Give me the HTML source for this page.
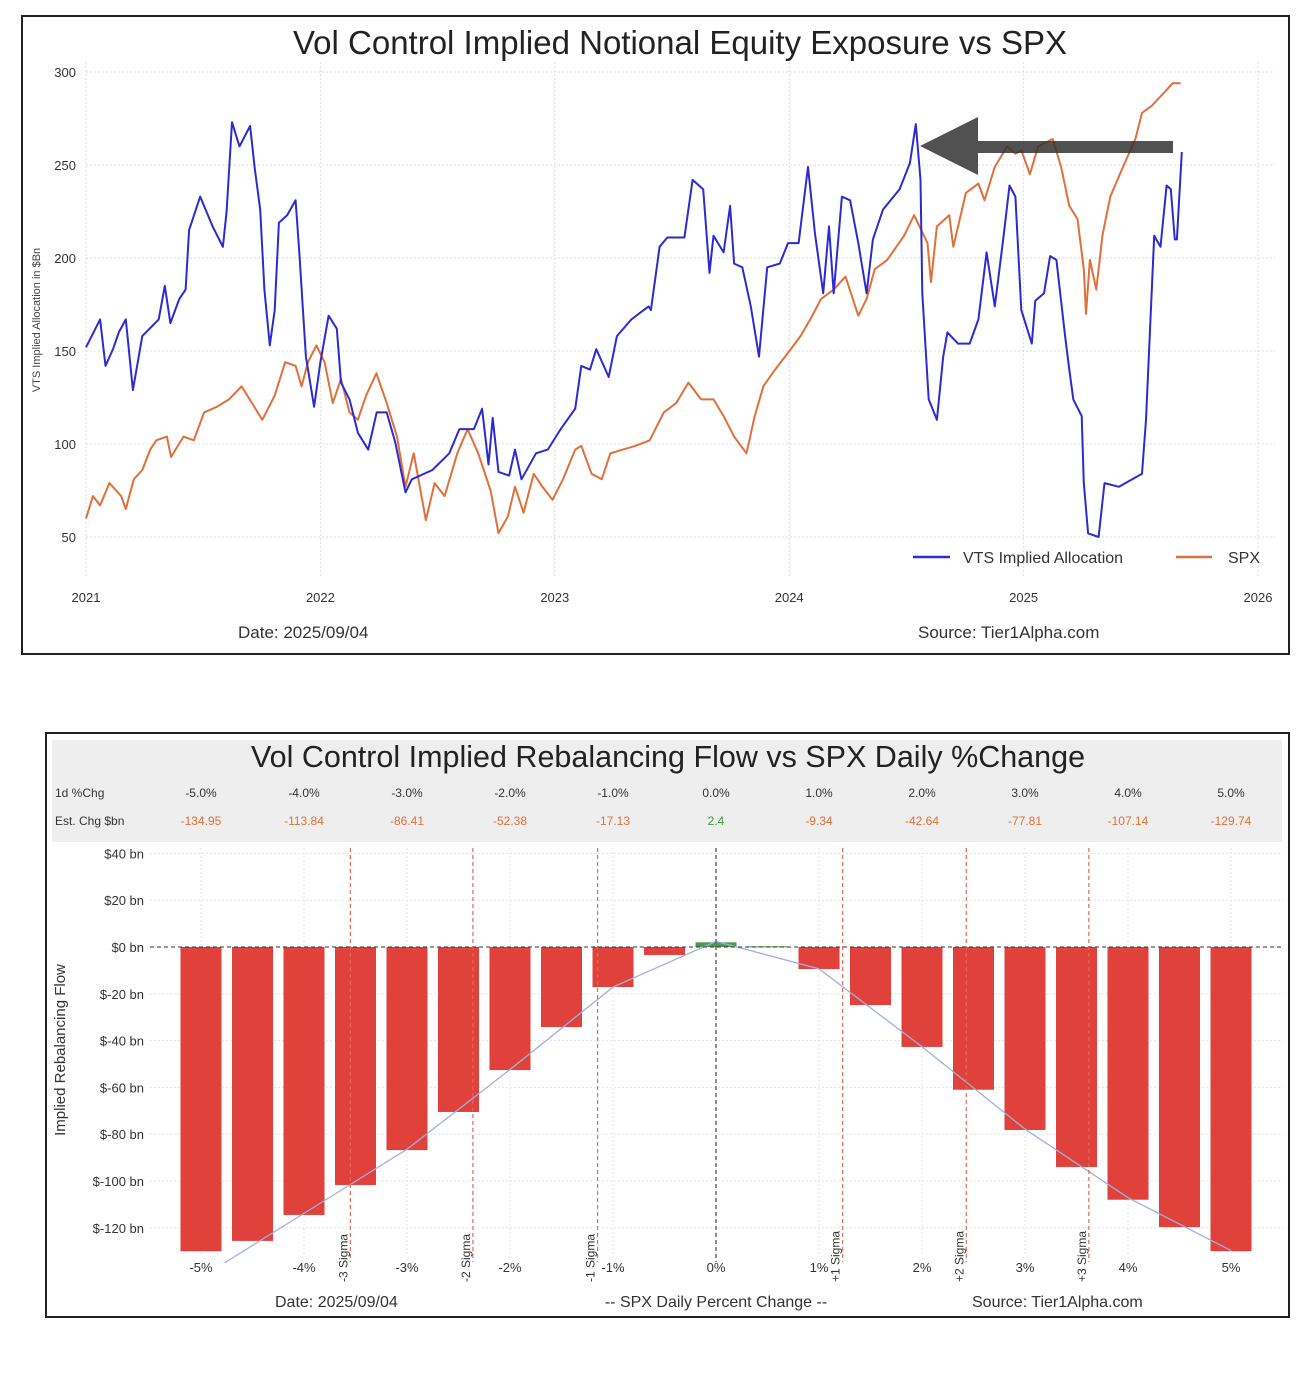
<!DOCTYPE html>
<html><head><meta charset="utf-8"><style>
html,body{margin:0;padding:0;background:#fff;}
body{width:1300px;height:1393px;position:relative;overflow:hidden;font-family:"Liberation Sans",sans-serif;}
svg text{font-family:"Liberation Sans",sans-serif;}
</style></head><body>
<svg id="s" width="1300" height="1393" xmlns="http://www.w3.org/2000/svg">
<rect x="0" y="0" width="1300" height="1393" fill="#fff"/>
<g id="top">
<rect x="22" y="16" width="1267" height="638" fill="#fff" stroke="#222" stroke-width="2"/>
<text x="680" y="54" text-anchor="middle" font-size="33" fill="#222">Vol Control Implied Notional Equity Exposure vs SPX</text>
<text transform="translate(40,320) rotate(-90)" text-anchor="middle" font-size="11" fill="#444">VTS Implied Allocation in $Bn</text>
<g id="topGrid"></g><g id="topLines"></g>
<g opacity="0.85">
<polygon points="920,146 978,117 978,175" fill="#333"/>
<rect x="977" y="141" width="196" height="12" fill="#333"/>
</g>
<g>
<line x1="913" y1="557" x2="950" y2="557" stroke="#2b2bd0" stroke-width="2.5"/>
<text x="963" y="563" font-size="16" fill="#333">VTS Implied Allocation</text>
<line x1="1176" y1="557" x2="1212" y2="557" stroke="#e0703a" stroke-width="2.5"/>
<text x="1228" y="563" font-size="16" fill="#333">SPX</text>
</g>
<text x="238" y="638" font-size="17" fill="#333">Date: 2025/09/04</text>
<text x="918" y="638" font-size="17" fill="#333">Source: Tier1Alpha.com</text>
</g>
<g id="bot">
<rect x="46" y="733" width="1243" height="584" fill="#fff" stroke="#222" stroke-width="2"/>
<rect x="52" y="740" width="1230" height="102" fill="#eeeeee"/>
<text x="668" y="767" text-anchor="middle" font-size="30.5" fill="#222">Vol Control Implied Rebalancing Flow vs SPX Daily %Change</text>
<text x="55" y="797" font-size="12" fill="#333">1d %Chg</text>
<text x="55" y="825" font-size="12" fill="#333">Est. Chg $bn</text>
<g id="table"></g>
<text transform="translate(65,1050) rotate(-90)" text-anchor="middle" font-size="15" fill="#333">Implied Rebalancing Flow</text>
<g id="botGrid"></g><g id="bars"></g>
<text x="275" y="1307" font-size="16" fill="#333">Date: 2025/09/04</text>
<text x="716" y="1307" text-anchor="middle" font-size="16" fill="#333">-- SPX Daily Percent Change --</text>
<text x="972" y="1307" font-size="16" fill="#333">Source: Tier1Alpha.com</text>
</g>
</svg>
<script>
// ---- top chart data ----
const yearTicks=[2021,2022,2023,2024,2025,2026];
const valueTicks=[50,100,150,200,250,300];
const vtsDates=[2021.0,2021.06,2021.083,2021.115,2021.14,2021.17,2021.2,2021.24,2021.31,2021.336,2021.36,2021.398,2021.425,2021.44,2021.487,2021.54,2021.584,2021.6,2021.623,2021.655,2021.7,2021.72,2021.743,2021.761,2021.784,2021.805,2021.823,2021.858,2021.894,2021.91,2021.938,2021.973,2022.0,2022.035,2022.07,2022.088,2022.124,2022.16,2022.204,2022.24,2022.283,2022.319,2022.363,2022.39,2022.425,2022.478,2022.55,2022.593,2022.655,2022.69,2022.717,2022.735,2022.76,2022.805,2022.83,2022.858,2022.92,2022.97,2023.025,2023.087,2023.113,2023.15,2023.177,2023.23,2023.265,2023.327,2023.4,2023.41,2023.447,2023.48,2023.553,2023.588,2023.633,2023.66,2023.677,2023.72,2023.748,2023.765,2023.8,2023.836,2023.871,2023.906,2023.96,2023.995,2024.04,2024.08,2024.11,2024.145,2024.17,2024.19,2024.225,2024.26,2024.295,2024.33,2024.357,2024.4,2024.471,2024.515,2024.54,2024.56,2024.568,2024.595,2024.63,2024.657,2024.675,2024.72,2024.77,2024.807,2024.842,2024.877,2024.913,2024.94,2024.965,2024.99,2025.035,2025.05,2025.087,2025.113,2025.14,2025.177,2025.195,2025.212,2025.248,2025.257,2025.275,2025.32,2025.345,2025.407,2025.505,2025.522,2025.557,2025.584,2025.61,2025.628,2025.645,2025.654,2025.675];
const vtsValues=[152,167,142,151,160,167,129,158,167,185,165,178,183,215,233,217,206,225,273,260,271,248,226,183,153,172,219,223,231,203,147,120,144,169,162,133,124,106,97,117,117,101,74,81,83,86,95,108,108,119,89,114,85,83,97,81,95,97,108,119,142,140,151,136,158,167,174,172,206,211,211,242,237,192,212,203,228,197,195,174,147,195,197,208,208,249,213,181,217,181,233,231,208,181,210,226,237,251,272,242,181,124,113,147,160,154,154,167,203,174,210,239,233,172,154,177,181,201,199,158,140,124,115,79,52,50,79,77,84,113,212,206,239,237,210,210,257];
const spxDates=[2021.0,2021.03,2021.06,2021.1,2021.15,2021.17,2021.204,2021.24,2021.274,2021.3,2021.345,2021.363,2021.416,2021.46,2021.504,2021.558,2021.61,2021.664,2021.708,2021.752,2021.805,2021.85,2021.894,2021.92,2021.947,2021.983,2022.018,2022.053,2022.088,2022.124,2022.16,2022.195,2022.239,2022.283,2022.327,2022.363,2022.398,2022.45,2022.487,2022.53,2022.584,2022.628,2022.673,2022.726,2022.76,2022.8,2022.83,2022.867,2022.91,2022.947,2022.99,2023.035,2023.087,2023.113,2023.157,2023.2,2023.237,2023.29,2023.343,2023.405,2023.465,2023.518,2023.57,2023.624,2023.677,2023.72,2023.765,2023.818,2023.853,2023.89,2023.94,2023.995,2024.048,2024.09,2024.136,2024.19,2024.24,2024.295,2024.33,2024.365,2024.418,2024.49,2024.533,2024.59,2024.605,2024.63,2024.683,2024.7,2024.754,2024.807,2024.833,2024.877,2024.93,2024.965,2024.99,2025.027,2025.062,2025.124,2025.16,2025.195,2025.23,2025.257,2025.266,2025.283,2025.31,2025.336,2025.37,2025.424,2025.477,2025.505,2025.548,2025.6,2025.636,2025.67];
const spxValues=[60,72,67,79,72,65,81,86,97,102,104,93,104,102,117,120,124,131,122,113,126,144,142,131,144,153,144,122,135,117,113,126,138,122,104,77,95,59,79,72,95,108,95,75,52,61,77,63,84,77,70,81,97,99,84,81,95,97,99,102,117,122,133,124,124,115,104,95,115,131,140,149,158,167,178,183,190,169,178,194,199,212,223,208,187,217,223,206,235,240,231,249,260,256,258,245,260,264,249,228,221,194,170,199,183,212,233,249,264,278,282,289,294,294];
// ---- bottom chart data ----
const pctTicks=[-5,-4,-3,-2,-1,0,1,2,3,4,5];
const flowTicks=[40,20,0,-20,-40,-60,-80,-100,-120];
const barPcts=[-5,-4.5,-4,-3.5,-3,-2.5,-2,-1.5,-1,-0.5,0,0.5,1,1.5,2,2.5,3,3.5,4,4.5,5];
const barValues=[-130,-125.6,-114.5,-101.7,-86.8,-70.5,-52.6,-34.2,-17.1,-3.4,2,0.3,-9.4,-24.8,-42.7,-61,-78.2,-94,-108,-119.7,-130];
const tablePcts=["-5.0%","-4.0%","-3.0%","-2.0%","-1.0%","0.0%","1.0%","2.0%","3.0%","4.0%","5.0%"];
const tableEst=[-134.95,-113.84,-86.41,-52.38,-17.13,2.4,-9.34,-42.64,-77.81,-107.14,-129.74];
const sigmaPcts=[-3.55,-2.36,-1.15,1.23,2.43,3.62];
const sigmaLabels=["-3 Sigma","-2 Sigma","-1 Sigma","+1 Sigma","+2 Sigma","+3 Sigma"];

const NS="http://www.w3.org/2000/svg";
function mk(tag,attrs,parent,txt){const e=document.createElementNS(NS,tag);for(const k in attrs)e.setAttribute(k,attrs[k]);if(txt!==undefined)e.textContent=txt;parent.appendChild(e);return e;}
const tx=y=>86+(y-2021)*234.4;
const ty=v=>72+(300-v)*93/50;
const tg=document.getElementById('topGrid');
yearTicks.forEach(y=>{
 const l=mk('line',{x1:tx(y),x2:tx(y),y1:62,y2:578,stroke:'#ddd','stroke-dasharray':'2,2'},tg);
 
 
 const t=mk('text',{x:tx(y),y:602,'text-anchor':'middle','font-size':13,fill:'#333'},tg,String(y));
 
 
});
valueTicks.forEach(v=>{
 const l=mk('line',{x1:86,x2:1275,y1:ty(v),y2:ty(v),stroke:'#ddd','stroke-dasharray':'2,2'},tg);
 
 
 const t=mk('text',{x:76,y:ty(v)+5,'text-anchor':'end','font-size':13,fill:'#333'},tg,String(v));
 
 
});
const tl=document.getElementById('topLines');
function path(ds,vs){return ds.map((d,i)=>(i?'L':'M')+tx(d).toFixed(1)+','+ty(vs[i]).toFixed(1)).join('');}
const sp=mk('path',{d:path(spxDates,spxValues),fill:'none',stroke:'#e0703a','stroke-width':2,'stroke-linejoin':'round'},tl);


const vp=mk('path',{d:path(vtsDates,vtsValues),fill:'none',stroke:'#2b2bd0','stroke-width':2,'stroke-linejoin':'round'},tl);


const bx=p=>716+p*103;
const by=v=>947-v*46.8/20;
const tab=document.getElementById('table');
tablePcts.forEach((s,i)=>{
 const t=mk('text',{x:bx(pctTicks[i]),y:797,'text-anchor':'middle','font-size':12,fill:'#333'},tab,s);
 
 
 const v=tableEst[i];
 const t2=mk('text',{x:bx(pctTicks[i]),y:825,'text-anchor':'middle','font-size':12,fill:v>=0?'#3a9a3a':'#e0703a'},tab,String(v));
 
 
});
const bg=document.getElementById('botGrid');
flowTicks.forEach(v=>{
 const l=mk('line',{x1:150,x2:1283,y1:by(v),y2:by(v),stroke:'#e4e4e4','stroke-dasharray':'2,2'},bg);
 
 
 const t=mk('text',{x:144,y:by(v)+5,'text-anchor':'end','font-size':13,fill:'#333'},bg,'$'+v+' bn');
 
 
});
pctTicks.forEach(p=>{
 const l=mk('line',{x1:bx(p),x2:bx(p),y1:848,y2:1255,stroke:'#e4e4e4','stroke-dasharray':'2,2'},bg);
 
 
 const t=mk('text',{x:bx(p),y:1272,'text-anchor':'middle','font-size':13,fill:'#333'},bg,p+'%');
 
 
});
const bars=document.getElementById('bars');
barPcts.forEach((p,i)=>{
 const v=barValues[i];const y0=by(0),y1=by(v);
 const r=mk('rect',{x:bx(p)-20.5,y:Math.min(y0,y1),width:41,height:Math.max(1,Math.abs(y1-y0)),fill:v>=0?'#4a9a4a':'#e0413a'},bars);
 
 
});
const fit=mk('path',{d:tableEst.map((v,i)=>(i?'L':'M')+bx(pctTicks[i]+(i==0?0.23:0))+','+by(v)).join(''),fill:'none',stroke:'#9fb0e0','stroke-width':1.3},bars);


const z=mk('line',{x1:150,x2:1283,y1:by(0),y2:by(0),stroke:'#333','stroke-dasharray':'4,3','stroke-width':1},bars);


const zv=mk('line',{x1:bx(0),x2:bx(0),y1:848,y2:1262,stroke:'#555','stroke-dasharray':'4,3','stroke-width':1.3},bars);


sigmaPcts.forEach((p,i)=>{
 const l=mk('line',{x1:bx(p),x2:bx(p),y1:848,y2:1262,stroke:'#e06a5a','stroke-dasharray':'4,3','stroke-width':1.2},bars);
 
 
 const t=mk('text',{transform:'translate('+(bx(p)-3)+',1282) rotate(-90)','font-size':12,fill:'#333'},bars,sigmaLabels[i]);
 
 
});
</script>
</body></html>
